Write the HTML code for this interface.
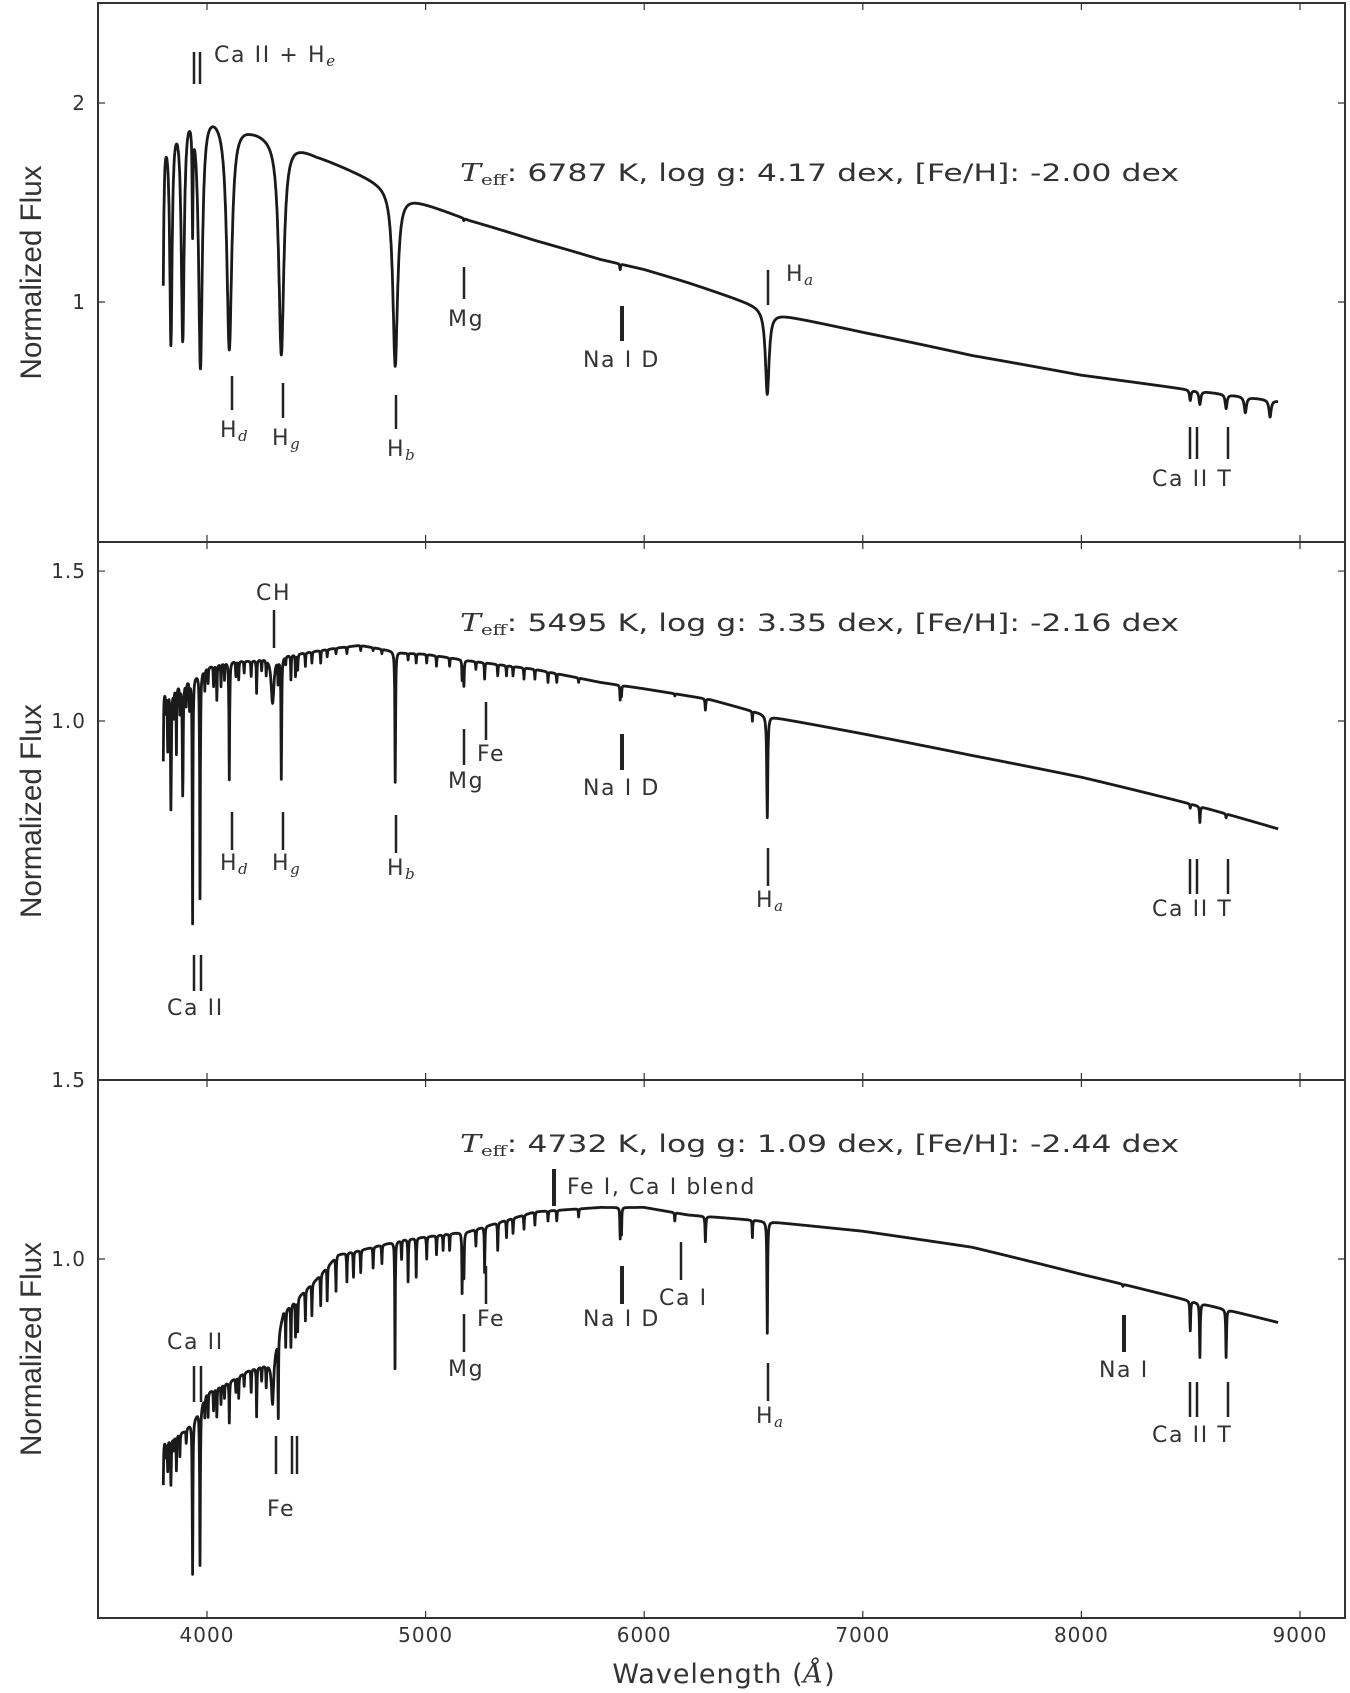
<!DOCTYPE html>
<html><head><meta charset="utf-8"><style>
html,body{margin:0;padding:0;background:#fff;}
svg{display:block;}
text{font-family:"DejaVu Sans","Liberation Sans",sans-serif;fill:#333;}
.ann{font-size:22px;letter-spacing:1.6px;}
.tk{font-size:20px;letter-spacing:1px;}
.ttl{font-size:24px;}
.ylab{font-family:"Liberation Sans Narrow","Liberation Sans",sans-serif;font-size:30px;fill:#333;}
.sub{font-family:"DejaVu Serif","Liberation Serif",serif;font-style:italic;font-size:15px;letter-spacing:0;}
</style></head><body>
<svg id="fig" width="1350" height="1693" viewBox="0 0 1350 1693">
<g id="marks"></g>
<g id="frames"></g>
</svg>
<script>
// ---- data ----
const xTicks = [4000,5000,6000,7000,8000,9000];
const xTickLabels = ["4000","5000","6000","7000","8000","9000"];
const yTicksTop = [1,2];
const yTickLabelsTop = ["1","2"];
const yTicksMid = [1.0,1.5];
const yTickLabelsMid = ["1.0","1.5"];
const yTicksBot = [1.0,1.5];
const yTickLabelsBot = ["1.0","1.5"];

const contWaveTop = [3800,3900,4000,4200,4400,4500,4800,4900,5000,5200,5500,5800,6000,6200,6500,6600,7000,7500,8000,8500,8900];
const contFluxTop = [1.86,2.04,1.98,1.84,1.74,1.67,1.51,1.45,1.41,1.33,1.24,1.16,1.12,1.07,0.99,0.96,0.90,0.83,0.775,0.736,0.708];
const lineWaveTop = [3798,3835,3889,3934,3970,4102,4340,4861,5175,5890,6280,6563,8498,8542,8662,8750,8863];
const lineMinTop  = [0.98,0.89,0.90,1.39,0.81,0.855,0.835,0.80,1.33,1.12,1.05,0.725,0.71,0.70,0.69,0.68,0.67];
const lineWidTop  = [5,8,10,2.5,13,17,17,15,2,2,3,11,4,5,5,6,6];

const contWaveMid = [3800,3900,4000,4100,4200,4300,4400,4600,4700,4900,5000,5200,5500,5800,6000,6300,6600,7000,7500,8000,8500,8900];
const contFluxMid = [1.085,1.117,1.157,1.177,1.177,1.191,1.198,1.219,1.227,1.202,1.198,1.177,1.150,1.110,1.091,1.060,1.009,0.966,0.911,0.859,0.799,0.747];
const lineWaveMid = [3800,3812,3820,3835,3848,3860,3876,3889,3905,3920,3934,3968,3990,4005,4030,4045,4064,4080,4102,4132,4145,4170,4202,4227,4250,4271,4300,4325,4340,4360,4384,4405,4415,4450,4480,4520,4550,4590,4640,4703,4760,4800,4861,4920,4957,5005,5050,5110,5167,5175,5230,5270,5330,5370,5400,5450,5500,5560,5600,5700,5890,5896,6140,6280,6495,6563,7660,8498,8542,8662];
const lineMinMid  = [0.90,1.03,0.93,0.79,1.02,0.92,1.03,0.82,1.05,1.04,0.58,0.62,1.09,1.11,1.10,1.06,1.10,1.12,0.854,1.13,1.12,1.14,1.13,1.08,1.15,1.14,1.05,1.12,0.859,1.17,1.12,1.13,1.15,1.16,1.17,1.17,1.19,1.20,1.20,1.21,1.21,1.20,0.847,1.18,1.17,1.17,1.16,1.16,1.12,1.10,1.15,1.12,1.13,1.13,1.13,1.12,1.12,1.11,1.11,1.11,1.06,1.07,1.07,1.03,1.00,0.77,0.91,0.79,0.76,0.77];
const lineWidMid  = [1.5,1.5,1.5,2.5,1.5,1.5,1.5,2.5,1.5,1.5,2,2,1.5,1.5,1.5,1.5,1.5,1.5,2,1.5,1.5,1.5,1.5,1.5,1.5,1.5,8,1.5,2,1.5,1.5,1.5,1.5,1.5,1.5,1.5,1.5,1.5,1.5,1.5,1.5,1.5,2,1.5,1.5,1.5,1.5,1.5,1.5,2,1.5,1.5,1.5,1.5,1.5,1.5,1.5,1.5,1.5,1.5,1.5,1.5,1.5,2,1.5,3,1.5,2,2,2];

const contWaveBot = [3800,3900,3950,4000,4100,4200,4300,4350,4400,4500,4600,4700,4900,5200,5500,5800,6000,6200,6500,7000,7500,8000,8500,8900];
const contFluxBot = [0.662,0.678,0.703,0.739,0.757,0.779,0.791,0.887,0.909,0.955,1.010,1.020,1.045,1.065,1.113,1.124,1.124,1.105,1.092,1.065,1.027,0.966,0.909,0.866];
const lineWaveBot = [3800,3812,3820,3835,3848,3860,3876,3905,3934,3968,3990,4005,4030,4045,4064,4080,4102,4132,4145,4170,4202,4227,4250,4271,4300,4326,4360,4384,4405,4415,4450,4480,4520,4550,4590,4640,4670,4703,4760,4800,4860,4890,4920,4957,5005,5050,5080,5110,5167,5175,5230,5270,5330,5370,5400,5450,5500,5560,5600,5700,5890,5896,6140,6280,6495,6563,7660,8190,8498,8542,8662];
const lineMinBot  = [0.60,0.64,0.62,0.60,0.65,0.62,0.64,0.66,0.49,0.50,0.70,0.70,0.71,0.70,0.72,0.73,0.69,0.74,0.73,0.75,0.74,0.70,0.76,0.75,0.72,0.70,0.82,0.82,0.84,0.85,0.87,0.88,0.90,0.91,0.93,0.95,0.96,0.97,0.98,0.99,0.78,1.00,0.95,0.96,1.00,1.01,1.02,1.02,0.93,0.96,1.03,0.97,1.02,1.05,1.06,1.07,1.08,1.09,1.09,1.10,1.05,1.06,1.09,1.04,1.05,0.845,1.01,0.94,0.85,0.80,0.80];
const lineWidBot  = [1.5,1.5,1.5,2,1.5,1.5,1.5,1.5,2,2,1.5,1.5,1.5,1.5,1.5,1.5,1.5,1.5,1.5,1.5,1.5,1.5,1.5,1.5,6,1.5,1.5,1.5,1.5,1.5,1.5,1.5,1.5,1.5,1.5,1.5,1.5,1.5,1.5,1.5,1.5,1.5,1.5,1.5,1.5,1.5,1.5,1.5,1.5,2,1.5,1.5,1.5,1.5,1.5,1.5,1.5,1.5,1.5,1.5,1.5,1.5,1.5,2,1.5,2,1.5,2,2,2,2];

// ---- geometry ----
const X0=98, X1=1345;
function xs(l){return 207+(l-4000)*0.2186;}
const panels=[
 {top:3,bot:542,y:f=>302-Math.log10(f)*661,cw:contWaveTop,cf:contFluxTop,lw:lineWaveTop,lm:lineMinTop,ld:lineWidTop,yt:yTicksTop,ytl:yTickLabelsTop,name:'top'},
 {top:542,bot:1080,y:f=>721-Math.log10(f)*851.6,cw:contWaveMid,cf:contFluxMid,lw:lineWaveMid,lm:lineMinMid,ld:lineWidMid,yt:yTicksMid,ytl:yTickLabelsMid,name:'middle'},
 {top:1080,bot:1618,y:f=>1259-Math.log10(f)*1016,cw:contWaveBot,cf:contFluxBot,lw:lineWaveBot,lm:lineMinBot,ld:lineWidBot,yt:yTicksBot,ytl:yTickLabelsBot,name:'bottom'}
];
const NS='http://www.w3.org/2000/svg';
function interp(ws,fs,l){
 if(l<=ws[0])return fs[0];
 for(let i=1;i<ws.length;i++){ if(l<=ws[i]){const t=(l-ws[i-1])/(ws[i]-ws[i-1]);return fs[i-1]+t*(fs[i]-fs[i-1]);} }
 return fs[fs.length-1];
}
const marks=document.getElementById('marks');
const frames=document.getElementById('frames');
panels.forEach(p=>{
 let d='';
 for(let l=3800;l<=8900;l+=1){
  let f=interp(p.cw,p.cf,l);
  for(let k=0;k<p.lw.length;k++){
   const c=interp(p.cw,p.cf,p.lw[k]);
   const dep=Math.max(0,1-p.lm[k]/c);
   const u=(l-p.lw[k])/p.ld[k];
   f*= (1-dep/(1+u*u));
  }
  d+=(l===3800?'M':'L')+xs(l).toFixed(1)+' '+p.y(Math.max(f,0.05)).toFixed(1);
 }
 const path=document.createElementNS(NS,'path');
 path.setAttribute('d',d);path.setAttribute('fill','none');path.setAttribute('stroke','#1a1a1a');path.setAttribute('stroke-width','2.8');path.setAttribute('stroke-linejoin','round');
 
 
 marks.appendChild(path);
 const r=document.createElementNS(NS,'rect');
 r.setAttribute('x',X0);r.setAttribute('y',p.top);r.setAttribute('width',X1-X0);r.setAttribute('height',p.bot-p.top);
 r.setAttribute('fill','none');r.setAttribute('stroke','#333');r.setAttribute('stroke-width','2');
 
 
 frames.appendChild(r);
 xTicks.forEach(t=>{
  const ln=document.createElementNS(NS,'path');
  const x=xs(t);
  ln.setAttribute('d',`M${x} ${p.top}v7M${x} ${p.bot}v-7`);ln.setAttribute('stroke','#333');ln.setAttribute('stroke-width','1.2');
  
  
  frames.appendChild(ln);
 });
 p.yt.forEach((t,i)=>{
  const y=p.y(t);
  const ln=document.createElementNS(NS,'path');
  ln.setAttribute('d',`M${X0} ${y}h7M${X1} ${y}h-7`);ln.setAttribute('stroke','#333');ln.setAttribute('stroke-width','1.2');
  
  
  frames.appendChild(ln);
  const tx=document.createElementNS(NS,'text');
  tx.setAttribute('x',86);tx.setAttribute('y',y+7);tx.setAttribute('text-anchor','end');tx.setAttribute('class','tk');
  tx.textContent=p.ytl[i];
  
  
  frames.appendChild(tx);
 });
 const yl=document.createElementNS(NS,'text');
 const cy=(p.top+p.bot)/2;
 yl.setAttribute('x',0);yl.setAttribute('y',0);yl.setAttribute('class','ylab');yl.setAttribute('text-anchor','middle');
 yl.setAttribute('transform',`translate(41 ${cy}) rotate(-90)`);
 yl.setAttribute('textLength','214');yl.setAttribute('lengthAdjust','spacingAndGlyphs');
 yl.textContent='Normalized Flux';
 
 
 frames.appendChild(yl);
});
xTicks.forEach((t,i)=>{
 const tx=document.createElementNS(NS,'text');
 tx.setAttribute('x',xs(t));tx.setAttribute('y',1642);tx.setAttribute('text-anchor','middle');tx.setAttribute('class','tk');
 tx.textContent=xTickLabels[i];
 
 
 frames.appendChild(tx);
});
</script>
<svg width="1350" height="1693" style="position:absolute;left:0;top:0">
<g stroke="#222" stroke-width="2.5">
 <path d="M194 52V84M200 52V84"/>
 <path d="M232 376V410M283 383V418M396 395V429M464 267V299M768 270V305M1190 427V459M1197 427V459M1228 427V459"/>
 <path d="M622 306V341" stroke-width="4"/>
 <path d="M274 610V648M486 702V740M464 729V765M232 812V850M283 812V850M396 815V853M768 848V886M1190 859V894M1197 859V894M1228 859V894M194 955V991M201 955V991"/>
 <path d="M622 734V770" stroke-width="4"/>
 <path d="M681 1242V1280M486 1266V1304M464 1314V1352M194 1366V1402M201 1366V1402M276 1436V1474M292 1436V1474M297 1436V1474M768 1363V1401M1190 1382V1417M1197 1382V1417M1228 1382V1417"/>
 <path d="M554 1169V1206M622 1266V1304M1124 1315V1352" stroke-width="4"/>
</g>
<g>
 <text x="214" y="62" class="ann">Ca II + H<tspan class="sub" dy="4">e</tspan></text>
 <text x="220" y="437" class="ann">H<tspan class="sub" dy="4">d</tspan></text>
 <text x="272" y="445" class="ann">H<tspan class="sub" dy="4">g</tspan></text>
 <text x="387" y="456" class="ann">H<tspan class="sub" dy="4">b</tspan></text>
 <text x="448" y="326" class="ann">Mg</text>
 <text x="583" y="367" class="ann">Na I D</text>
 <text x="786" y="281" class="ann">H<tspan class="sub" dy="4">a</tspan></text>
 <text x="1152" y="486" class="ann">Ca II T</text>

 <text x="256" y="600" class="ann">CH</text>
 <text x="477" y="761" class="ann">Fe</text>
 <text x="448" y="788" class="ann">Mg</text>
 <text x="583" y="795" class="ann">Na I D</text>
 <text x="220" y="870" class="ann">H<tspan class="sub" dy="4">d</tspan></text>
 <text x="272" y="870" class="ann">H<tspan class="sub" dy="4">g</tspan></text>
 <text x="387" y="875" class="ann">H<tspan class="sub" dy="4">b</tspan></text>
 <text x="756" y="907" class="ann">H<tspan class="sub" dy="4">a</tspan></text>
 <text x="1152" y="916" class="ann">Ca II T</text>
 <text x="167" y="1015" class="ann">Ca II</text>

 <text x="567" y="1194" class="ann">Fe I, Ca I blend</text>
 <text x="659" y="1305" class="ann">Ca I</text>
 <text x="583" y="1326" class="ann">Na I D</text>
 <text x="477" y="1326" class="ann">Fe</text>
 <text x="448" y="1376" class="ann">Mg</text>
 <text x="167" y="1349" class="ann">Ca II</text>
 <text x="267" y="1516" class="ann">Fe</text>
 <text x="756" y="1423" class="ann">H<tspan class="sub" dy="4">a</tspan></text>
 <text x="1099" y="1377" class="ann">Na I</text>
 <text x="1152" y="1442" class="ann">Ca II T</text>
</g>
<g>
 <text x="460" y="181" class="ttl" textLength="719" lengthAdjust="spacingAndGlyphs"><tspan font-family="DejaVu Serif" font-style="italic">T</tspan><tspan font-family="DejaVu Serif" font-size="15" dy="4">eff</tspan><tspan dy="-4">: 6787 K,  log g: 4.17 dex, [Fe/H]: -2.00 dex</tspan></text>
 <text x="460" y="631" class="ttl" textLength="719" lengthAdjust="spacingAndGlyphs"><tspan font-family="DejaVu Serif" font-style="italic">T</tspan><tspan font-family="DejaVu Serif" font-size="15" dy="4">eff</tspan><tspan dy="-4">: 5495 K,  log g: 3.35 dex, [Fe/H]: -2.16 dex</tspan></text>
 <text x="460" y="1152" class="ttl" textLength="719" lengthAdjust="spacingAndGlyphs"><tspan font-family="DejaVu Serif" font-style="italic">T</tspan><tspan font-family="DejaVu Serif" font-size="15" dy="4">eff</tspan><tspan dy="-4">: 4732 K,  log g: 1.09 dex, [Fe/H]: -2.44 dex</tspan></text>
 <text x="724" y="1683" text-anchor="middle" style="font-size:27px;letter-spacing:1px">Wavelength (<tspan font-family="DejaVu Serif" font-style="italic">Å</tspan>)</text>
</g>
</svg>
</body></html>
